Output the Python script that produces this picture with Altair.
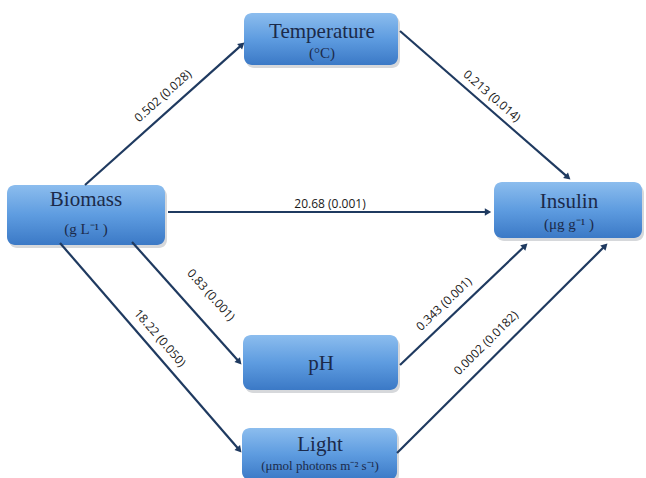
import math
import altair as alt
import pandas as pd

W, H = 646, 478

# Path model: variables and estimated path coefficients (p-values)
node_names = ["Temperature", "Biomass", "Insulin", "pH", "Light"]
node_units = ["(°C)", "(g L⁻¹ )", "(μg g⁻¹ )", "", "(μmol photons m⁻² s⁻¹)"]

edge_from = ["Biomass", "Temperature", "Biomass", "Biomass", "Biomass", "pH", "Light"]
edge_to = ["Temperature", "Insulin", "Insulin", "pH", "Light", "Insulin", "Insulin"]
coefficients = ["0.502", "0.213", "20.68", "0.83", "18.22", "0.343", "0.0002"]
p_values = ["0.028", "0.014", "0.001", "0.001", "0.050", "0.001", "0.0182"]

# Layout of the diagram (pixel space, origin top-left)
box_x0 = [244, 7, 494, 243, 242]
box_x1 = [398, 165, 642, 398, 397]
box_y0 = [13, 185, 182, 335, 428]
box_y1 = [65, 245, 238, 390, 480]
name_y = [32, 200, 202, 364, 445]
unit_y = [53, 229, 224, 0, 466]
unit_size = [15, 15, 15, 15, 13]
name_cx = [322, 86, 569, 321, 320]

edge_start = [(85, 185), (400, 31), (168, 212), (132, 242), (60, 243), (400, 365), (397, 453)]
edge_end = [(245, 42), (571, 180), (492, 212), (242, 365), (242, 453), (528, 243), (608, 243)]
label_pos = [(163, 96), (492, 96), (330, 204), (211, 295), (160, 338), (444, 304), (486, 343)]

boxes = pd.DataFrame({"name": node_names, "x0": box_x0, "x1": box_x1, "y0": box_y0, "y1": box_y1})
shadow = boxes.assign(x0=boxes.x0 + 2, x1=boxes.x1 + 2, y0=boxes.y0 + 3, y1=boxes.y1 + 3)

name_txt = pd.DataFrame({"t": node_names, "x": name_cx, "y": name_y})
unit_txt = pd.DataFrame({"t": node_units, "x": name_cx, "y": unit_y, "s": unit_size})
unit_txt = unit_txt[unit_txt.t != ""]

rules, heads, labels = [], [], []
for i in range(len(edge_from)):
    (sx, sy), (ex, ey) = edge_start[i], edge_end[i]
    dx, dy = ex - sx, ey - sy
    L = math.hypot(dx, dy)
    ux, uy = dx / L, dy / L
    hx, hy = ex - 4 * ux, ey - 4 * uy
    rules.append({"x": sx, "y": sy, "x2": hx, "y2": hy})
    heads.append({"x": hx, "y": hy, "ang": math.degrees(math.atan2(dx, -dy)) % 360})
    lx, ly = label_pos[i]
    labels.append({"x": lx, "y": ly,
                   "t": f"{coefficients[i]} ({p_values[i]})",
                   "ang": math.degrees(math.atan2(dy, dx)) % 360})
rules = pd.DataFrame(rules)
heads = pd.DataFrame(heads)
labels = pd.DataFrame(labels)

xs = alt.Scale(domain=[0, W], range=[0, W])
ys = alt.Scale(domain=[0, H], range=[0, H])
X = lambda f: alt.X(f, type="quantitative", scale=xs, axis=None)
Y = lambda f: alt.Y(f, type="quantitative", scale=ys, axis=None)

navy = "#1f3a60"

shadow_layer = alt.Chart(shadow).mark_rect(cornerRadius=8, color="#8a8f99", opacity=0.35).encode(
    x=X("x0"), x2="x1", y=Y("y0"), y2="y1")

box_layer = alt.Chart(boxes).mark_rect(
    cornerRadius=8,
    fill=alt.Gradient(gradient="linear", x1=0, x2=0, y1=0, y2=1,
                      stops=[alt.GradientStop(color="#8cbdee", offset=0),
                             alt.GradientStop(color="#5e9ce0", offset=0.5),
                             alt.GradientStop(color="#3b79c6", offset=1)]),
).encode(x=X("x0"), x2="x1", y=Y("y0"), y2="y1")

rule_layer = alt.Chart(rules).mark_rule(color=navy, strokeWidth=2.2).encode(
    x=X("x"), y=Y("y"), x2="x2", y2="y2")

head_layer = alt.Chart(heads).mark_point(shape="triangle-up", filled=True, color=navy,
                                         size=55, opacity=1).encode(
    x=X("x"), y=Y("y"), angle=alt.Angle("ang:Q", scale=None))

label_layer = alt.Chart(labels).mark_text(font="Open Sans", fontSize=12, color="#1a1a1a",
                                          baseline="middle", align="center").encode(
    x=X("x"), y=Y("y"), text="t:N", angle=alt.Angle("ang:Q", scale=None))

name_layer = alt.Chart(name_txt).mark_text(font="Liberation Serif", fontSize=21, color="#1b2a4a",
                                           baseline="middle", align="center").encode(
    x=X("x"), y=Y("y"), text="t:N")

unit_layer = alt.Chart(unit_txt).mark_text(font="Liberation Serif", color="#1b2a4a",
                                           baseline="middle", align="center").encode(
    x=X("x"), y=Y("y"), text="t:N", size=alt.Size("s:Q", scale=None, legend=None))

chart = alt.layer(shadow_layer, box_layer, rule_layer, head_layer, label_layer,
                  name_layer, unit_layer).properties(
    width=W, height=H, autosize=alt.AutoSizeParams(type="none"), padding=0,
    background="white",
).configure_view(stroke=None)

chart.save("out.html", embed_options={"renderer": "svg", "actions": False})
